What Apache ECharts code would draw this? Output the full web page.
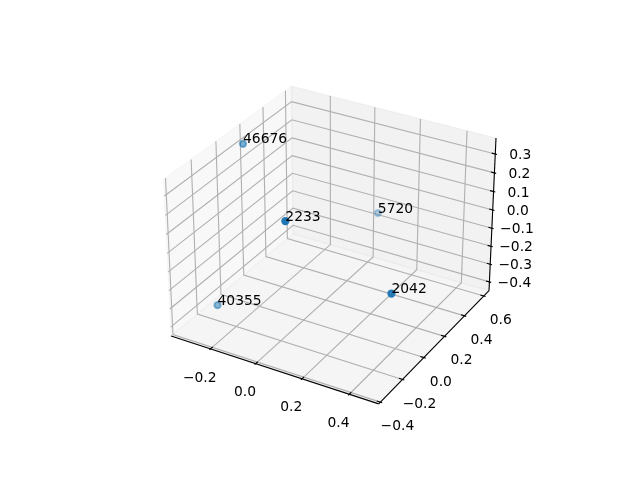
<!DOCTYPE html>
<html><head><meta charset="utf-8">
<style>html,body{margin:0;padding:0;background:#fff}#c{width:640px;height:480px}</style>
<script src="https://cdn.jsdelivr.net/npm/echarts@6/dist/echarts.min.js"></script>
</head><body><div id="c"></div>
<script>
const ids = ['46676','2233','5720','2042','40355'];
const xs = [-0.348, 0.124, 0.026, 0.477, -0.314];
const ys = [0.167, -0.388, 0.640, -0.216, -0.145];
const zs = [0.303, 0.332, -0.181, -0.001, -0.406];
const xLim = [-0.378, 0.522];
const yLim = [-0.415, 0.655];
const zLim = [-0.450, 0.384];
const xTicks = [-0.2, 0.0, 0.2, 0.4];
const yTicks = [-0.4, -0.2, 0.0, 0.2, 0.4, 0.6];
const zTicks = [-0.4, -0.3, -0.2, -0.1, 0.0, 0.1, 0.2, 0.3];
const fmt = v => (v < 0 ? '\u2212' : '') + Math.abs(v).toFixed(1);

// mplot3d camera: elev 30, azim -60, dist 10, box aspect 4:4:3
const norm = Math.sqrt(41), k = 1.8294640721620434 * 25 / 24 / norm;
const box = [4 * k, 4 * k, 3 * k];
const el = 30 * Math.PI / 180, az = -60 * Math.PI / 180, dist = 10;
const W = [Math.cos(el) * Math.cos(az), Math.cos(el) * Math.sin(az), Math.sin(el)];
const dot = (a, b) => a[0] * b[0] + a[1] * b[1] + a[2] * b[2];
const cross = (a, b) => [a[1] * b[2] - a[2] * b[1], a[2] * b[0] - a[0] * b[2], a[0] * b[1] - a[1] * b[0]];
let U = cross([0, 0, 1], W); const ul = Math.sqrt(dot(U, U)); U = U.map(v => v / ul);
const V = cross(W, U);
function proj(p) {
  const q = [0, 1, 2].map(i => {
    const L = [xLim, yLim, zLim][i];
    return (p[i] - L[0]) / (L[1] - L[0]) * box[i] - box[i] / 2;
  });
  const d = dist - dot(W, q);
  return { x: dot(U, q) / d, y: dot(V, q) / d, depth: d };
}
const P2 = p => { const r = proj(p); return [r.x, r.y]; };

const [x0, x1] = xLim, [y0, y1] = yLim, [z0, z1] = zLim;
const panes = [
  { c: 'rgba(242,242,242,0.5)', p: [[x0,y0,z0],[x0,y1,z0],[x0,y1,z1],[x0,y0,z1]] },
  { c: 'rgba(230,230,230,0.5)', p: [[x0,y1,z0],[x1,y1,z0],[x1,y1,z1],[x0,y1,z1]] },
  { c: 'rgba(236,236,236,0.5)', p: [[x0,y0,z0],[x1,y0,z0],[x1,y1,z0],[x0,y1,z0]] }
];
const grid = [];
xTicks.forEach(t => grid.push([[t,y0,z0],[t,y1,z0],[t,y1,z1]]));
yTicks.forEach(t => grid.push([[x1,t,z0],[x0,t,z0],[x0,t,z1]]));
zTicks.forEach(t => grid.push([[x0,y0,t],[x0,y1,t],[x1,y1,t]]));
const dx = (x1 - x0) / 12, dy = (y1 - y0) / 12;
const axisLines = [[[x0,y0,z0],[x1,y0,z0]], [[x1,y0,z0],[x1,y1,z0]], [[x1,y1,z0],[x1,y1,z1]]];
xTicks.forEach(t => axisLines.push([[t,y0+0.2*dy,z0],[t,y0-0.1*dy,z0]]));
yTicks.forEach(t => axisLines.push([[x1-0.2*dx,t,z0],[x1+0.1*dx,t,z0]]));
zTicks.forEach(t => axisLines.push([[x1-0.2*dx,y1,t],[x1+0.1*dx,y1,t]]));
const labels = [];
xTicks.forEach(t => labels.push({ t: fmt(t), p: [t,y0,z0], o: [-10.7, 29] }));
yTicks.forEach(t => labels.push({ t: fmt(t), p: [x1,t,z0], o: [17, 24.5] }));
zTicks.forEach(t => labels.push({ t: fmt(t), p: [x1,y1,t], o: [25, 1.5] }));

const font = '13.89px "DejaVu Sans"';
const idx = a => a.map((_, i) => [i]);
const base = { type: 'custom', silent: true, coordinateSystem: 'cartesian2d', animation: false, clip: false };
const toPx = (api, p) => api.coord(P2(p));

const pts = ids.map((id, i) => ({ id, p: [xs[i], ys[i], zs[i]], r: proj([xs[i], ys[i], zs[i]]) }));
const ds = pts.map(o => o.r.depth), dmin = Math.min(...ds), dmax = Math.max(...ds);
pts.sort((a, b) => b.r.depth - a.r.depth);
const scatterData = pts.map(o => ({
  value: [o.r.x, o.r.y],
  itemStyle: { opacity: 1 - 0.7 * (o.r.depth - dmin) / (dmax - dmin) }
}));

const chart = echarts.init(document.getElementById('c'), null, { renderer: 'canvas' });
chart.setOption({
  animation: false,
  backgroundColor: '#fff',
  grid: { left: 143.2, top: 57.6, width: 369.6, height: 369.6 },
  xAxis: { type: 'value', min: -0.095, max: 0.09, show: false },
  yAxis: { type: 'value', min: -0.095, max: 0.09, show: false },
  series: [
    Object.assign({}, base, { z: 1, data: idx(panes), renderItem: (p, api) => {
      const o = panes[api.value(0)];
      return { type: 'polygon', shape: { points: o.p.map(q => toPx(api, q)) },
        style: { fill: o.c, stroke: o.c, lineWidth: 1.11 } };
    }}),
    Object.assign({}, base, { z: 2, data: idx(grid), renderItem: (p, api) => ({
      type: 'polyline', shape: { points: grid[api.value(0)].map(q => toPx(api, q)) },
      style: { fill: 'none', stroke: '#b0b0b0', lineWidth: 1.11 } })
    }),
    Object.assign({}, base, { z: 3, data: idx(axisLines), renderItem: (p, api) => ({
      type: 'polyline', shape: { points: axisLines[api.value(0)].map(q => toPx(api, q)) },
      style: { fill: 'none', stroke: '#000', lineWidth: 1.11 } })
    }),
    Object.assign({}, base, { z: 4, data: idx(labels), renderItem: (p, api) => {
      const o = labels[api.value(0)], c = toPx(api, o.p);
      return { type: 'text', x: c[0] + o.o[0], y: c[1] + o.o[1],
        style: { text: o.t, font, fill: '#000', align: 'center', verticalAlign: 'middle' } };
    }}),
    { type: 'scatter', z: 5, silent: true, animation: false, symbol: 'circle', symbolSize: 6.2,
      itemStyle: { color: '#1f77b4', borderColor: '#1f77b4', borderWidth: 2.08 }, data: scatterData },
    Object.assign({}, base, { z: 6, data: idx(pts), renderItem: (p, api) => {
      const o = pts[api.value(0)], c = toPx(api, o.p);
      return { type: 'text', x: c[0], y: c[1] - 4,
        style: { text: o.id, font, fill: '#000', align: 'left', verticalAlign: 'middle' } };
    }})
  ]
});
</script></body></html>
